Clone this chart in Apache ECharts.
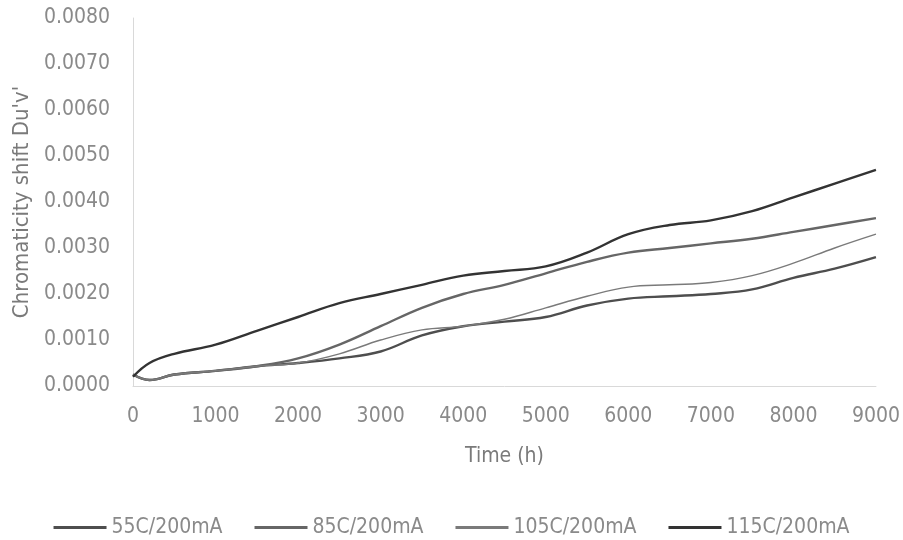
<!DOCTYPE html>
<html>
<head>
<meta charset="utf-8">
<script src="https://cdn.jsdelivr.net/npm/echarts@6/dist/echarts.min.js"></script>
<style>html,body{margin:0;padding:0;background:#fff;}#c{width:903px;height:540px;}</style>
</head>
<body>
<div id="c"></div>
<script>
var hours = [0, 200, 500, 1000, 1500, 2000, 2500, 3000, 3500, 4000, 4500, 5000, 5500, 6000, 6500, 7000, 7500, 8000, 8500, 9000];
var s55 = [0.00025, 0.00013, 0.00025, 0.00033, 0.00043, 0.0005, 0.0006, 0.00075, 0.0011, 0.0013, 0.0014, 0.0015, 0.00175, 0.0019, 0.00195, 0.002, 0.0021, 0.00235, 0.00255, 0.0028];
var s85 = [0.00025, 0.00013, 0.00025, 0.00033, 0.00043, 0.0006, 0.0009, 0.0013, 0.0017, 0.002, 0.0022, 0.00245, 0.0027, 0.0029, 0.003, 0.0031, 0.0032, 0.00335, 0.0035, 0.00365];
var s105 = [0.00025, 0.00013, 0.00025, 0.00033, 0.00043, 0.0005, 0.0007, 0.001, 0.00122, 0.0013, 0.00145, 0.0017, 0.00195, 0.00215, 0.0022, 0.00225, 0.0024, 0.00267, 0.003, 0.0033];
var s115 = [0.0002, 0.0005, 0.0007, 0.0009, 0.0012, 0.0015, 0.0018, 0.002, 0.0022, 0.0024, 0.0025, 0.0026, 0.0029, 0.0033, 0.0035, 0.0036, 0.0038, 0.0041, 0.0044, 0.0047];
var names = ['55C/200mA', '85C/200mA', '105C/200mA', '115C/200mA'];
var yTicks = ['0.0000','0.0010','0.0020','0.0030','0.0040','0.0050','0.0060','0.0070','0.0080'];

function pairs(v){ return hours.map(function(h,i){ return [h, v[i]]; }); }
var font = '"Liberation Sans Narrow", "DejaVu Sans Condensed", "Open Sans", sans-serif';
var chart = echarts.init(document.getElementById('c'));
function ser(name, vals, color, width){
  return {name:name, type:'line', smooth:0.4, symbol:'none', data:pairs(vals),
    lineStyle:{color:color, width:width}, itemStyle:{color:color}};
}
chart.setOption({
  animation:false,
  backgroundColor:'#fff',
  grid:{left:133, right:26, top:18, bottom:154},
  xAxis:{type:'value', min:0, max:9000, interval:1000,
    name:'Time (h)', nameLocation:'middle', nameGap:60,
    nameTextStyle:{color:'#7a7a7a', fontSize:21, fontFamily:font},
    axisLine:{show:true, lineStyle:{color:'#d9d9d9', width:1}},
    axisTick:{show:false}, splitLine:{show:false},
    axisLabel:{color:'#8a8a8a', fontSize:21, fontFamily:font, margin:20,
      formatter:function(v){ return String(v); }}},
  yAxis:{type:'value', min:0, max:0.008, interval:0.001,
    name:"Chromaticity shift Du'v'", nameLocation:'middle', nameGap:100,
    nameTextStyle:{color:'#7a7a7a', fontSize:22, fontFamily:font},
    axisLine:{show:true, lineStyle:{color:'#d9d9d9', width:1}},
    axisTick:{show:false}, splitLine:{show:false},
    axisLabel:{color:'#8a8a8a', fontSize:21, fontFamily:font, margin:23,
      formatter:function(v){ return yTicks[Math.round(v/0.001)]; }}},
  legend:{top:512, left:'center', icon:'rect', itemWidth:53, itemHeight:3, itemGap:32,
    textStyle:{color:'#8a8a8a', fontSize:21, fontFamily:font},
    data:names},
  series:[
    ser(names[0], s55, '#4e4e4e', 2.4),
    ser(names[1], s85, '#666666', 2.4),
    ser(names[2], s105, '#7a7a7a', 1.4),
    ser(names[3], s115, '#333333', 2.4)
  ]
});
</script>
</body>
</html>
